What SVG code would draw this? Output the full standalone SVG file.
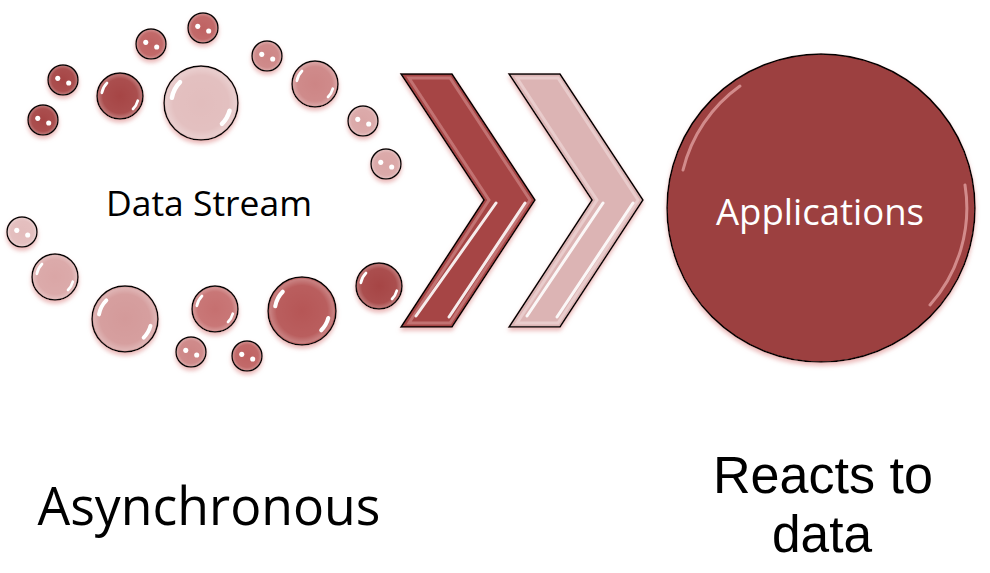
<svg xmlns="http://www.w3.org/2000/svg" xmlns:xlink="http://www.w3.org/1999/xlink" width="990" height="573" viewBox="0 0 990 573">
<defs>
<filter id="sh" x="-30%" y="-30%" width="160%" height="170%">
<feDropShadow dx="0" dy="3" stdDeviation="2" flood-color="#e6a8a8" flood-opacity="0.8"/>
</filter>
<radialGradient id="shine" cx="50%" cy="50%" r="50%">
<stop offset="0" stop-color="#fff" stop-opacity="0"/>
<stop offset="0.75" stop-color="#fff" stop-opacity="0.05"/>
<stop offset="0.93" stop-color="#fff" stop-opacity="0.25"/>
<stop offset="1" stop-color="#fff" stop-opacity="0"/>
</radialGradient>
<path id="hl" d="M -0.788 -0.139 A 0.8 0.8 0 0 1 -0.566 -0.566 M 0.773 0.207 A 0.8 0.8 0 0 1 0.566 0.566" fill="none" stroke="#fff" stroke-width="0.12" stroke-linecap="round"/>
<g id="dots" fill="#fff"><circle cx="-0.35" cy="-0.11" r="0.17"/><circle cx="0.38" cy="0.2" r="0.17"/></g>
</defs>
<style>
.b{stroke:#000;stroke-width:1.5;filter:url(#sh)}
.sh{fill:url(#shine);stroke:none}
.dk{fill:#a64545}.md{fill:#bf6262}.ml{fill:#cd8585}.lt{fill:#daa6a6}.vl{fill:#e3bcbc}
.lbl{font-family:"Open Sans","Noto Sans",sans-serif;fill:#000}
.lbl2{font-family:"Liberation Sans",Arial,sans-serif;fill:#000}
.chev{stroke:#000;stroke-width:1.5;stroke-linejoin:miter}
.hline{stroke:#fff;stroke-width:3;stroke-linecap:round;opacity:0.9}
</style>
<rect width="990" height="573" fill="#fff"/>

<g id="data-stream">
<g id="bubbles">
<circle class="b md" cx="203" cy="28" r="15"/><circle class="sh" cx="203" cy="28" r="15"/><use xlink:href="#dots" transform="translate(203,28) scale(15)"/>
<circle class="b md" cx="151" cy="44" r="15"/><circle class="sh" cx="151" cy="44" r="15"/><use xlink:href="#dots" transform="translate(151,44) scale(15)"/>
<circle class="b dk" cx="63" cy="80" r="15"/><circle class="sh" cx="63" cy="80" r="15"/><use xlink:href="#dots" transform="translate(63,80) scale(15)"/>
<circle class="b dk" cx="43" cy="120" r="15"/><circle class="sh" cx="43" cy="120" r="15"/><use xlink:href="#dots" transform="translate(43,120) scale(15)"/>
<circle class="b dk" cx="120" cy="96" r="23"/><circle class="sh" cx="120" cy="96" r="23"/><use xlink:href="#hl" transform="translate(120,96) scale(23)"/>
<circle class="b" style="fill:#e2bdbd" cx="201" cy="103" r="37"/><circle class="sh" cx="201" cy="103" r="37"/><use xlink:href="#hl" transform="translate(201,103) scale(37)"/>
<circle class="b ml" cx="267" cy="56" r="15"/><circle class="sh" cx="267" cy="56" r="15"/><use xlink:href="#dots" transform="translate(267,56) scale(15)"/>
<circle class="b ml" cx="315" cy="84" r="23"/><circle class="sh" cx="315" cy="84" r="23"/><use xlink:href="#hl" transform="translate(315,84) scale(23)"/>
<circle class="b lt" cx="363" cy="121" r="15"/><circle class="sh" cx="363" cy="121" r="15"/><use xlink:href="#dots" transform="translate(363,121) scale(15)"/>
<circle class="b lt" cx="386" cy="164" r="15"/><circle class="sh" cx="386" cy="164" r="15"/><use xlink:href="#dots" transform="translate(386,164) scale(15)"/>
<circle class="b vl" cx="22" cy="232" r="15"/><circle class="sh" cx="22" cy="232" r="15"/><use xlink:href="#dots" transform="translate(22,232) scale(15)"/>
<circle class="b lt" cx="55" cy="277" r="23"/><circle class="sh" cx="55" cy="277" r="23"/><use xlink:href="#hl" transform="translate(55,277) scale(23)"/>
<circle class="b" style="fill:#d49a9a" cx="125" cy="319" r="33"/><circle class="sh" cx="125" cy="319" r="33"/><use xlink:href="#hl" transform="translate(125,319) scale(33)"/>
<circle class="b" style="fill:#c67070" cx="215" cy="309" r="23"/><circle class="sh" cx="215" cy="309" r="23"/><use xlink:href="#hl" transform="translate(215,309) scale(23)"/>
<circle class="b" style="fill:#b65656" cx="302" cy="311" r="34"/><circle class="sh" cx="302" cy="311" r="34"/><use xlink:href="#hl" transform="translate(302,311) scale(34)"/>
<circle class="b dk" cx="379" cy="286" r="23"/><circle class="sh" cx="379" cy="286" r="23"/><use xlink:href="#hl" transform="translate(379,286) scale(23)"/>
<circle class="b ml" cx="191" cy="352" r="15"/><circle class="sh" cx="191" cy="352" r="15"/><use xlink:href="#dots" transform="translate(191,352) scale(15)"/>
<circle class="b md" cx="247" cy="356" r="15"/><circle class="sh" cx="247" cy="356" r="15"/><use xlink:href="#dots" transform="translate(247,356) scale(15)"/>
</g>
<text class="lbl" x="209" y="216" font-size="35" text-anchor="middle" textLength="206" lengthAdjust="spacingAndGlyphs">Data Stream</text>
</g>

<g id="connectors">
<g id="chevron-1" filter="url(#sh)">
<polygon class="chev" fill="#a64545" points="401,74 452,74 535,200 452,327 401,327 484,200"/>
<polygon fill="none" stroke="#c27272" stroke-width="3" points="409,78 450,78 530,200 450,323 409,323 489,200"/>
<line class="hline" x1="496" y1="203" x2="416" y2="316"/>
<line class="hline" x1="525" y1="203" x2="449" y2="317"/>
</g>
<g id="chevron-2" filter="url(#sh)">
<polygon class="chev" fill="#dcb4b4" points="509,74 560,74 643,200 560,327 509,327 592,200"/>
<polygon fill="none" stroke="#e9cccc" stroke-width="3" points="517,78 558,78 638,200 558,323 517,323 597,200"/>
<line class="hline" x1="603" y1="203" x2="527" y2="316"/>
<line class="hline" x1="633" y1="203" x2="557" y2="317"/>
</g>
</g>

<g id="applications">
<circle cx="821" cy="208" r="154" fill="#9c4040" stroke="#000" stroke-width="1.5" filter="url(#sh)"/>
<path d="M 683 170 A 146 146 0 0 1 740 86" fill="none" stroke="#d89494" stroke-width="3" stroke-linecap="round" opacity="0.9"/>
<path d="M 965 185 A 146 146 0 0 1 930 305" fill="none" stroke="#d89494" stroke-width="3" stroke-linecap="round" opacity="0.9"/>
<text x="820" y="225" font-family="'Open Sans','Noto Sans',sans-serif" font-size="36" fill="#fff" text-anchor="middle" textLength="208" lengthAdjust="spacingAndGlyphs">Applications</text>
</g>

<g id="label-async">
<text class="lbl" x="209" y="525" font-size="53" text-anchor="middle" textLength="343" lengthAdjust="spacingAndGlyphs">Asynchronous</text>
</g>
<g id="label-reacts">
<text class="lbl2" x="823" y="493" font-size="51" text-anchor="middle" textLength="220" lengthAdjust="spacingAndGlyphs">Reacts to</text>
<text class="lbl2" x="822" y="552" font-size="51" text-anchor="middle" textLength="100" lengthAdjust="spacingAndGlyphs">data</text>
</g>
</svg>
